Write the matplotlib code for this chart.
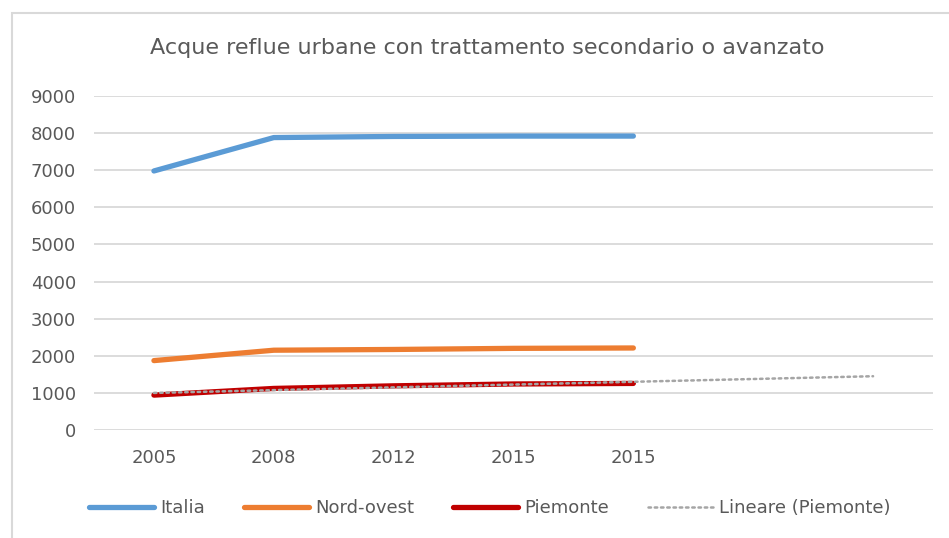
import numpy as np
import matplotlib
matplotlib.use("Agg")
import matplotlib.pyplot as plt
from matplotlib.patches import Rectangle

categories = ["2005", "2008", "2012", "2015", "2015"]
italia = [6980, 7880, 7910, 7920, 7920]
nord_ovest = [1870, 2150, 2170, 2200, 2210]
piemonte = [940, 1120, 1190, 1240, 1255]
forecast_periods = 2
yticks = [0, 1000, 2000, 3000, 4000, 5000, 6000, 7000, 8000, 9000]

title = "Acque reflue urbane con trattamento secondario o avanzato"
text_color = "#595959"
grid_color = "#D9D9D9"

plt.rcParams['font.family'] = ['DejaVu Sans']

W, H = 949, 538
fig = plt.figure(figsize=(W / 100, H / 100), dpi=100)
fig.patch.set_facecolor("white")

# chart border (cropped at right and bottom)
fig.patches.append(Rectangle((12 / W, -0.1), 1.2, 1 - 13 / H + 0.1,
                             transform=fig.transFigure, fill=False,
                             edgecolor=grid_color, linewidth=1.5))

ax = fig.add_axes([94 / W, 1 - 430 / H, (933 - 94) / W, (430 - 96) / H])

n = len(categories)
x = np.arange(n)
ntot = n + forecast_periods

ax.plot(x, italia, color="#5B9BD5", lw=3.8, solid_capstyle="round",
        solid_joinstyle="round", label="Italia", zorder=3)
ax.plot(x, nord_ovest, color="#ED7D31", lw=3.8, solid_capstyle="round",
        solid_joinstyle="round", label="Nord-ovest", zorder=3)
ax.plot(x, piemonte, color="#C00000", lw=3.8, solid_capstyle="round",
        solid_joinstyle="round", label="Piemonte", zorder=3)

coef = np.polyfit(x + 1, piemonte, 1)
xt = np.arange(ntot)
ax.plot(xt, np.polyval(coef, xt + 1), color="#A5A5A5", lw=1.8,
        linestyle=(0, (1, 1.5)), dash_capstyle="round",
        label="Lineare (Piemonte)", zorder=4)

ax.set_xlim(-0.5, ntot - 0.5)
ax.set_ylim(0, 9000)
ax.set_yticks(yticks)
ax.set_yticklabels([str(v) for v in yticks])
ax.set_xticks(x)
ax.set_xticklabels(categories)
ax.tick_params(axis="both", length=0, labelsize=13, labelcolor=text_color)
ax.tick_params(axis="y", pad=13)
ax.tick_params(axis="x", pad=14)
ax.grid(axis="y", color=grid_color, lw=1.3)
ax.set_axisbelow(True)
for s in ax.spines.values():
    s.set_visible(False)
ax.set_facecolor("none")

fig.text(487 / W, 1 - 48 / H, title, ha="center", va="center",
         fontsize=16, color=text_color)

leg = fig.legend(loc="center", bbox_to_anchor=(490 / W, 1 - 508 / H),
                 ncol=4, frameon=False, fontsize=13, handlelength=3.6,
                 handletextpad=0.35, columnspacing=2.15)
for t in leg.get_texts():
    t.set_color(text_color)

fig.savefig("out.png", dpi=100, facecolor="white")
